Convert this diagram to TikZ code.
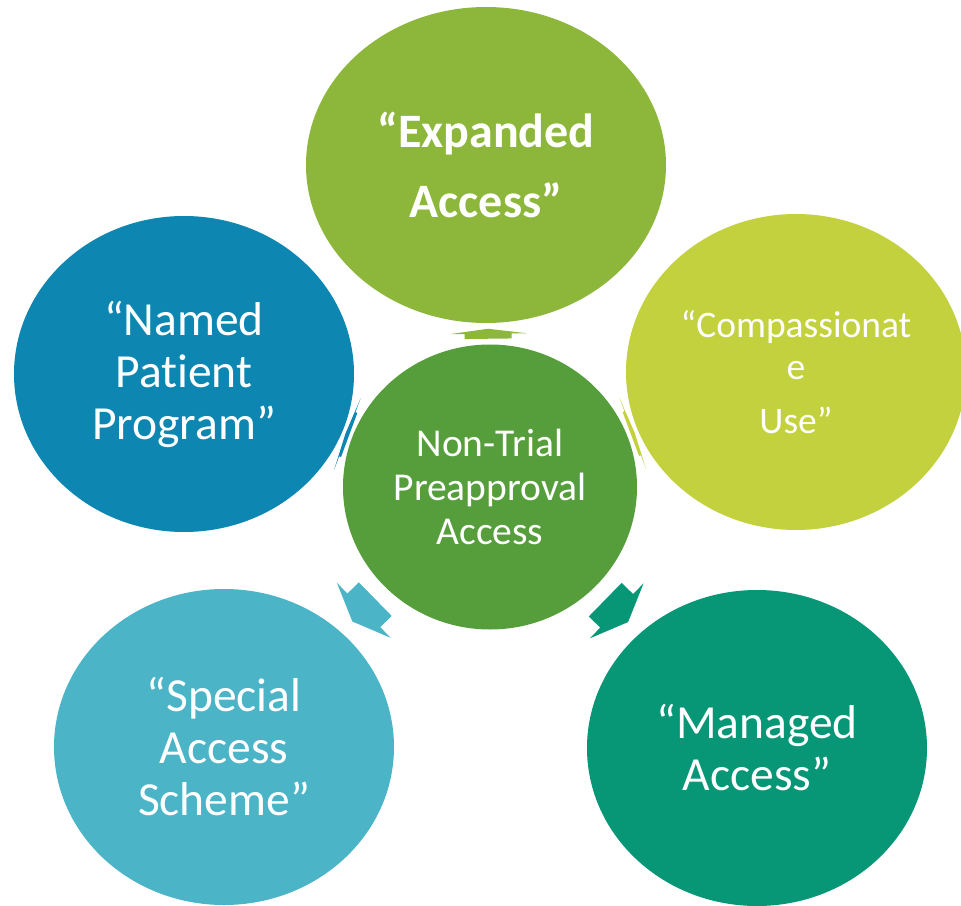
\documentclass[tikz,border=0pt]{standalone}
\usepackage{fontspec}
\setmainfont{Carlito}[Ligatures=NoCommon]
\usepackage{xcolor}
\usepackage{tikz}
\usetikzlibrary{positioning, shapes.geometric}

\definecolor{hubgreen}{HTML}{559E3B}
\definecolor{expgreen}{HTML}{8DB73A}
\definecolor{namedblue}{HTML}{0D87B1}
\definecolor{compalime}{HTML}{C2D13D}
\definecolor{specialteal}{HTML}{4BB4C6}
\definecolor{managedteal}{HTML}{079676}

\begin{document}
\begin{tikzpicture}[
    x=1pt, y=1pt,
    node distance=300pt, on grid,
    bubble/.style={ellipse, inner sep=0pt, align=center, text=white, minimum width=340pt, minimum height=316pt, font=\fontsize{47.5}{52}\selectfont},
    hub/.style={bubble, fill=hubgreen, minimum width=294pt, minimum height=285pt, font=\fontsize{39.5}{44}\selectfont},
    pics/spoke/.style={code={
        \fill (-#1/2,-23.5) -- (0,-23.5) -- (0,-38.5) -- (#1/2,0) -- (0,38.5) -- (0,23.5) -- (-#1/2,23.5) -- cycle;
    }}
]
\useasboundingbox (-490,-418) rectangle (471,487);

% Centre node
\node[hub] (hub) at (0,0) {Non-Trial\\Preapproval\\Access};

% The five outer names
\node[bubble, fill=expgreen, minimum width=360pt, font=\bfseries\fontsize{48}{70}\selectfont, above left=322pt and 4pt of hub] (expanded) {“Expanded\\Access”};
\node[bubble, fill=namedblue, above left=113pt and 306pt of hub] (named) {“Named\\Patient\\Program”};
\node[bubble, fill=compalime, font=\fontsize{37.5}{42}\selectfont, above right=115pt and 306pt of hub] (compassionate) {“Compassionat\\e\\[12pt]Use”};
\node[bubble, fill=specialteal, below left=260pt and 266pt of hub] (special) {“Special\\Access\\Scheme”};
\node[bubble, fill=managedteal, below right=261pt and 267pt of hub] (managed) {“Managed\\Access”};

% Arrows out of the centre
\path (hub) -- (expanded) pic[midway, sloped, allow upside down, fill=expgreen] {spoke=10};
\path (hub) -- (named) pic[midway, sloped, allow upside down, fill=namedblue] {spoke=4};
\path (hub) -- (compassionate) pic[midway, sloped, allow upside down, fill=compalime] {spoke=4};
\path (hub) -- (special) pic[midway, sloped, allow upside down, fill=specialteal] {spoke=32};
\path (hub) -- (managed) pic[midway, sloped, allow upside down, fill=managedteal] {spoke=32};

\end{tikzpicture}
\end{document}
